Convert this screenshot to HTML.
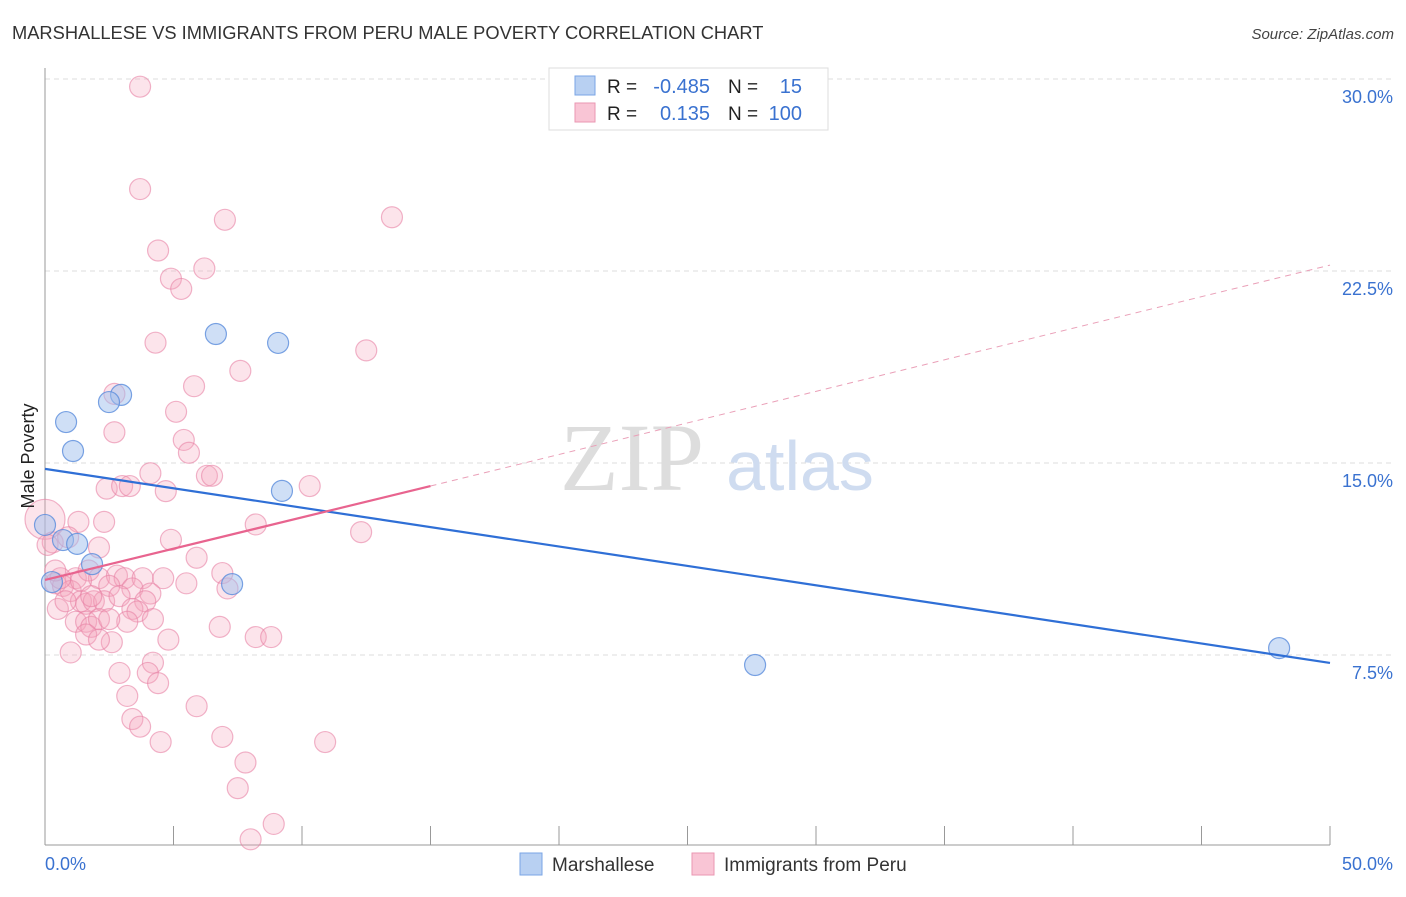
<!DOCTYPE html>
<html><head><meta charset="utf-8"><style>
body{margin:0;background:#fff;font-family:"Liberation Sans",sans-serif;}
svg text{font-family:"Liberation Sans",sans-serif;}
</style></head><body>
<svg width="1406" height="892" viewBox="0 0 1406 892" xmlns="http://www.w3.org/2000/svg">
<text x="12" y="39" font-size="18.3" fill="#333">MARSHALLESE VS IMMIGRANTS FROM PERU MALE POVERTY CORRELATION CHART</text>
<text x="1394" y="39" font-size="15" fill="#444" font-style="italic" text-anchor="end">Source: ZipAtlas.com</text>
<g id="grid"></g>
<g>
<text x="632" y="490" font-size="96" fill="#ddd" text-anchor="middle" font-family="Liberation Serif,serif" style="font-family:'Liberation Serif',serif">ZIP</text>
<text x="800" y="490" font-size="70" fill="#cfdcf0" text-anchor="middle">atlas</text>
</g>
<g id="pts"></g>
<g id="lines"></g>
<text transform="translate(34,456) rotate(-90)" font-size="18" fill="#222" text-anchor="middle">Male Poverty</text>
<g>
<rect x="549" y="68" width="279" height="62" fill="#fff" stroke="#ddd"/>
<rect x="575" y="76" width="20" height="19" fill="#b8d0f2" stroke="#7aa5e5"/>
<rect x="575" y="103" width="20" height="19" fill="#f9c5d5" stroke="#ea97b2"/>
<text x="607" y="93" font-size="19" fill="#222">R = </text><text x="710" y="93" font-size="20" fill="#3a72d0" text-anchor="end">-0.485</text>
<text x="728" y="93" font-size="19" fill="#222">N = </text><text x="802" y="93" font-size="20" fill="#3a72d0" text-anchor="end">15</text>
<text x="607" y="120" font-size="19" fill="#222">R = </text><text x="710" y="120" font-size="20" fill="#3a72d0" text-anchor="end">0.135</text>
<text x="728" y="120" font-size="19" fill="#222">N = </text><text x="802" y="120" font-size="20" fill="#3a72d0" text-anchor="end">100</text>
</g>
<g>
<rect x="520" y="853" width="22" height="22" fill="#b8d0f2" stroke="#7aa5e5"/>
<text x="552" y="871" font-size="19" fill="#333">Marshallese</text>
<rect x="692" y="853" width="22" height="22" fill="#f9c5d5" stroke="#ea97b2"/>
<text x="724" y="871" font-size="19" fill="#333">Immigrants from Peru</text>
</g>
</svg>
<script>
const yTicks=[7.5,15,22.5,30];
const yTickLabels=["7.5%","15.0%","22.5%","30.0%"];
const xTicks=[0,5,10,15,20,25,30,35,40,45,50];
const blueX=[6.65,9.07,2.96,2.49,0.82,1.09,9.22,0,0.70,1.25,1.83,7.28,27.63,48.02,0.27];
const blueY=[20.04,19.69,17.66,17.38,16.6,15.47,13.91,12.58,11.99,11.84,11.05,10.27,7.11,7.77,10.35];
const pinkX=[3.7,3.7,13.5,7.0,4.4,6.2,4.9,5.3,4.3,12.5,7.6,5.8,2.7,5.1,2.7,5.4,5.6,4.1,6.3,6.5,2.4,3.0,3.3,4.7,10.3,1.3,2.3,8.2,12.3,4.9,0,0.3,0.9,2.1,5.9,1.2,1.7,2.1,2.8,3.1,3.8,4.6,6.9,5.5,0.4,0.7,2.5,3.4,4.1,0.5,1.0,1.4,1.6,1.9,2.3,2.9,3.9,3.4,3.6,4.2,1.2,1.6,1.8,2.1,3.2,1.0,1.6,2.6,4.8,6.8,8.2,8.8,2.9,4.2,4.0,4.4,3.2,3.4,3.7,5.9,4.5,6.9,10.9,7.8,7.5,8.9,8.0,0.1,0.6,1.4,0.8,1.8,2.1,0.4,2.5,7.1];
const pinkY=[29.7,25.7,24.6,24.5,23.3,22.6,22.2,21.8,19.7,19.4,18.6,18.0,17.7,17.0,16.2,15.9,15.4,14.6,14.5,14.5,14.0,14.1,14.1,13.9,14.1,12.7,12.7,12.6,12.3,12.0,12.8,11.9,12.1,11.7,11.3,10.5,10.8,10.5,10.6,10.5,10.5,10.5,10.7,10.3,10.3,10.2,10.2,10.1,9.9,9.3,10.0,9.6,9.5,9.6,9.6,9.8,9.6,9.3,9.2,8.9,8.8,8.8,8.6,8.9,8.8,7.6,8.3,8.0,8.1,8.6,8.2,8.2,6.8,7.2,6.8,6.4,5.9,5.0,4.7,5.5,4.1,4.3,4.1,3.3,2.3,0.9,0.3,11.8,10.5,10.4,9.6,9.8,8.1,10.8,8.9,10.1];
const blueLine=[[0,14.77],[50,7.19]];
const pinkLine=[[0,10.43],[15,14.1]];
const pinkDash=[[15,14.1],[50,22.73]];
const NS="http://www.w3.org/2000/svg";
function sx(v){return 45+v*25.7;}
function sy(v){return 847-v*25.6;}
function mk(t,a,p){const e=document.createElementNS(NS,t);for(const k in a)e.setAttribute(k,a[k]);p.appendChild(e);return e;}
const grid=document.getElementById('grid');
yTicks.forEach((t,i)=>{
 const l=mk('line',{x1:45,x2:1393,y1:sy(t),y2:sy(t),stroke:'#ddd','stroke-dasharray':'5,4'},grid);
 
 
 const tx=mk('text',{x:1393,y:sy(t)+24,'font-size':18,fill:'#3a72d0','text-anchor':'end'},grid);
 tx.textContent=yTickLabels[i];
 
 
});
const ax=mk('line',{x1:45,x2:45,y1:68,y2:845,stroke:'#999'},grid);


const bx=mk('line',{x1:45,x2:1330,y1:845,y2:845,stroke:'#999'},grid);


xTicks.forEach(t=>{
 const l=mk('line',{x1:sx(t),x2:sx(t),y1:826,y2:845,stroke:'#999'},grid);
 
 
});
const xl=mk('text',{x:45,y:870,'font-size':18,fill:'#3a72d0'},grid);xl.textContent='0.0%';


const xr=mk('text',{x:1393,y:870,'font-size':18,fill:'#3a72d0','text-anchor':'end'},grid);xr.textContent='50.0%';


const pts=document.getElementById('pts');
pinkX.forEach((x,i)=>{
 const r=(x===0&&pinkY[i]>12.5)?20:10.5;
 const c=mk('circle',{cx:sx(x),cy:sy(pinkY[i]),r:r,fill:'rgba(245,165,190,0.3)',stroke:'rgba(232,130,165,0.6)','stroke-width':1.2},pts);
 
 
});
blueX.forEach((x,i)=>{
 const c=mk('circle',{cx:sx(x),cy:sy(blueY[i]),r:10.5,fill:'rgba(160,192,238,0.5)',stroke:'rgba(90,140,220,0.8)','stroke-width':1.2},pts);
 
 
});
const lines=document.getElementById('lines');
const b=mk('line',{x1:sx(blueLine[0][0]),y1:sy(blueLine[0][1]),x2:sx(blueLine[1][0]),y2:sy(blueLine[1][1]),stroke:'#2f6fd6','stroke-width':2.2},lines);


const p=mk('line',{x1:sx(pinkLine[0][0]),y1:sy(pinkLine[0][1]),x2:sx(pinkLine[1][0]),y2:sy(pinkLine[1][1]),stroke:'#e8648f','stroke-width':2.2},lines);


const d=mk('line',{x1:sx(pinkDash[0][0]),y1:sy(pinkDash[0][1]),x2:sx(pinkDash[1][0]),y2:sy(pinkDash[1][1]),stroke:'#eaa0b8','stroke-width':1,'stroke-dasharray':'6,5'},lines);


</script>
</body></html>
